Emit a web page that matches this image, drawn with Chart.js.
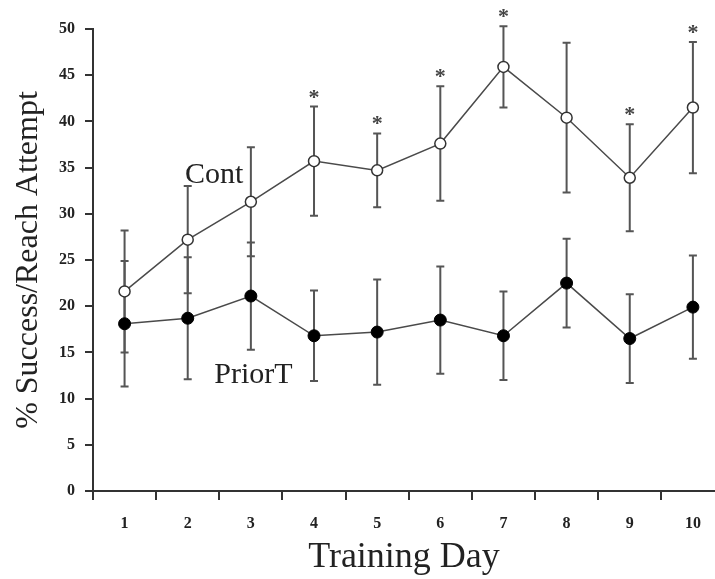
<!DOCTYPE html>
<html>
<head>
<meta charset="utf-8">
<script src="https://cdn.jsdelivr.net/npm/chart.js@4.4.1/dist/chart.umd.min.js"></script>
<style>
  html, body { margin: 0; padding: 0; background: #ffffff; overflow: hidden; }
  #wrap { width: 715px; height: 579px; }
</style>
</head>
<body>
<div id="wrap"><canvas id="c" width="715" height="579"></canvas></div>
<script>
// ---- data ----
const days = [1, 2, 3, 4, 5, 6, 7, 8, 9, 10];
const contMean = [21.6, 27.2, 31.3, 35.7, 34.7, 37.6, 45.9, 40.4, 33.9, 41.5];
const contErr  = [6.6, 5.8, 5.9, 5.9, 4.0, 6.2, 4.4, 8.1, 5.8, 7.1];
const priorMean = [18.1, 18.7, 21.1, 16.8, 17.2, 18.5, 16.8, 22.5, 16.5, 19.9];
const priorErr  = [6.8, 6.6, 5.8, 4.9, 5.7, 5.8, 4.8, 4.8, 4.8, 5.6];
const sigDays = [4, 5, 6, 7, 9, 10];
const yTicks = [0, 5, 10, 15, 20, 25, 30, 35, 40, 45, 50];
const seriesNames = ['Cont', 'PriorT'];

const SERIF = '"Liberation Serif", "Times New Roman", Times, serif';
const INK = '#222';

const contPts = days.map((d, i) => ({ x: d, y: contMean[i] }));
const priorPts = days.map((d, i) => ({ x: d, y: priorMean[i] }));

const errorBars = {
  id: 'errorBars',
  beforeDatasetsDraw(chart) {
    const { ctx, scales: { x, y } } = chart;
    const sets = [[contMean, contErr], [priorMean, priorErr]];
    ctx.save();
    ctx.strokeStyle = '#555';
    ctx.lineWidth = 2;
    sets.forEach(([m, e]) => {
      days.forEach((d, i) => {
        const px = x.getPixelForValue(d);
        const top = y.getPixelForValue(m[i] + e[i]);
        const bot = y.getPixelForValue(m[i] - e[i]);
        ctx.beginPath();
        ctx.moveTo(px, top); ctx.lineTo(px, bot);
        ctx.moveTo(px - 4, top); ctx.lineTo(px + 4, top);
        ctx.moveTo(px - 4, bot); ctx.lineTo(px + 4, bot);
        ctx.stroke();
      });
    });
    ctx.restore();
  },
  afterDatasetsDraw(chart) {
    const { ctx, scales: { x, y } } = chart;
    ctx.save();
    // significance asterisks above Cont upper error bar
    ctx.fillStyle = '#444';
    ctx.font = 'bold 22px ' + SERIF;
    ctx.textAlign = 'center';
    ctx.textBaseline = 'alphabetic';
    sigDays.forEach(d => {
      const i = days.indexOf(d);
      const px = x.getPixelForValue(d);
      const top = y.getPixelForValue(contMean[i] + contErr[i]);
      ctx.fillText('*', px, top - 13 + 10);
    });
    // series labels
    ctx.fillStyle = INK;
    ctx.font = '30px ' + SERIF;
    ctx.fillText(seriesNames[0], x.getPixelForValue(2.42), y.getPixelForValue(33.3));
    ctx.fillText(seriesNames[1], x.getPixelForValue(3.04), y.getPixelForValue(11.7));
    ctx.restore();
  }
};

new Chart(document.getElementById('c'), {
  type: 'line',
  data: {
    datasets: [
      {
        label: seriesNames[0],
        data: contPts,
        borderColor: '#4a4a4a',
        borderWidth: 1.5,
        pointRadius: 5.5,
        pointBackgroundColor: '#ffffff',
        pointBorderColor: '#333',
        pointBorderWidth: 1.5,
        tension: 0,
        fill: false,
        clip: false
      },
      {
        label: seriesNames[1],
        data: priorPts,
        borderColor: '#4a4a4a',
        borderWidth: 1.5,
        pointRadius: 6,
        pointBackgroundColor: '#000',
        pointBorderColor: '#000',
        pointBorderWidth: 1,
        tension: 0,
        fill: false,
        clip: false
      }
    ]
  },
  options: {
    responsive: false,
    animation: false,
    devicePixelRatio: 1,
    layout: { autoPadding: false, padding: { top: 29, right: 0, bottom: 0, left: 0 } },
    plugins: { legend: { display: false }, tooltip: { enabled: false } },
    scales: {
      x: {
        type: 'linear',
        min: 0.5,
        max: 10.35,
        afterBuildTicks: (scale) => {
          const t = [];
          for (let v = 0.5; v <= 10; v += 0.5) t.push({ value: v });
          scale.ticks = t;
        },
        afterFit: (scale) => { scale.height = 88; scale.paddingLeft = 0; scale.paddingRight = 0; },
        border: { display: true, color: '#333', width: 2 },
        grid: {
          drawOnChartArea: false,
          drawTicks: true,
          tickLength: 9,
          lineWidth: 2,
          color: (ctx) => (ctx.tick && Number.isInteger(ctx.tick.value)) ? 'rgba(0,0,0,0)' : '#333'
        },
        ticks: {
          autoSkip: false,
          maxRotation: 0,
          padding: 14,
          color: INK,
          font: { family: SERIF, size: 16, weight: 'bold' },
          callback: (v) => Number.isInteger(v) ? String(v) : ''
        },
        title: {
          display: true,
          text: 'Training Day',
          color: INK,
          font: { family: SERIF, size: 36, lineHeight: 1 },
          padding: { top: 0, bottom: 3 }
        }
      },
      y: {
        type: 'linear',
        min: 0,
        max: 50,
        afterBuildTicks: (scale) => { scale.ticks = yTicks.map(v => ({ value: v })); },
        afterFit: (scale) => { scale.width = 93; },
        border: { display: true, color: '#333', width: 2 },
        grid: {
          drawOnChartArea: false,
          drawTicks: true,
          tickLength: 8,
          lineWidth: 2,
          color: '#333'
        },
        ticks: {
          padding: 10,
          color: INK,
          font: { family: SERIF, size: 16, weight: 'bold' }
        },
        title: {
          display: true,
          text: '% Success/Reach Attempt',
          color: INK,
          font: { family: SERIF, size: 32, lineHeight: 1 },
          padding: { top: 13, bottom: 0 }
        }
      }
    }
  },
  plugins: [errorBars]
});
</script>
</body>
</html>
